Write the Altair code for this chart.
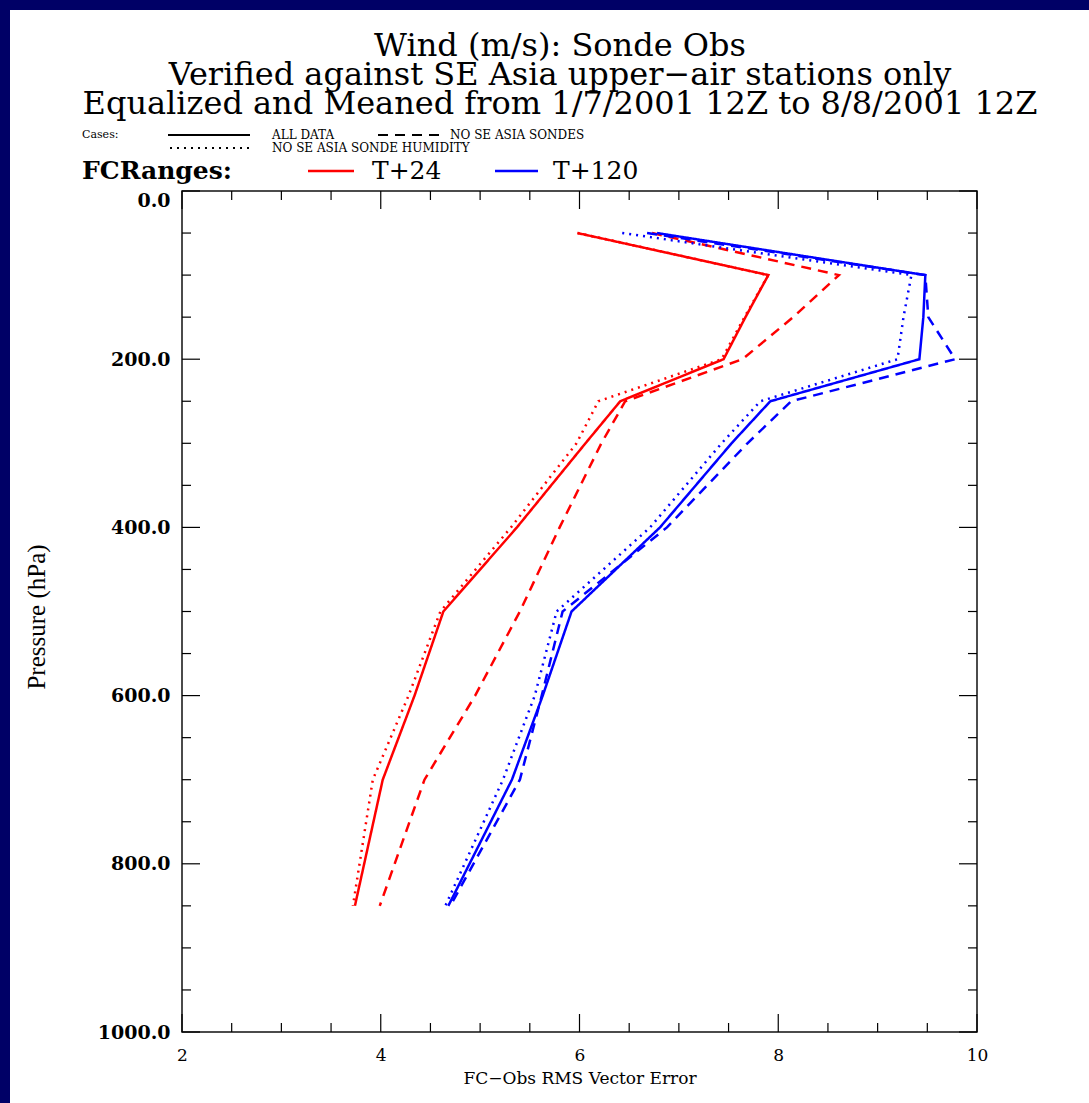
import altair as alt
import pandas as pd

# Pressure levels (hPa) at which the RMS vector errors are plotted
levels = [50, 100, 150, 200, 250, 300, 400, 500, 600, 700, 850]

# FC-Obs RMS vector wind error (m/s), one list per forecast range and case
t24_all = [5.98, 7.90, 7.67, 7.45, 6.41, 6.06, 5.37, 4.63, 4.34, 4.02, 3.74]
t24_no_sondes = [6.73, 8.61, 8.15, 7.64, 6.46, 6.22, 5.80, 5.40, 4.95, 4.44, 3.99]
t24_no_humidity = [5.98, 7.90, 7.66, 7.43, 6.19, 5.97, 5.31, 4.60, 4.28, 3.92, 3.72]
t120_all = [6.78, 9.48, 9.46, 9.42, 7.92, 7.53, 6.81, 5.92, 5.63, 5.32, 4.68]
t120_no_sondes = [6.68, 9.48, 9.51, 9.78, 8.13, 7.69, 6.88, 5.83, 5.62, 5.40, 4.70]
t120_no_humidity = [6.43, 9.34, 9.26, 9.20, 7.82, 7.43, 6.71, 5.77, 5.55, 5.23, 4.65]

ranges = ["T+24", "T+120"]
cases = ["ALL DATA", "NO SE ASIA SONDES", "NO SE ASIA SONDE HUMIDITY"]

# Axis tick values
x_major = [2, 4, 6, 8, 10]
x_minor = [2.5, 3, 3.5, 4.5, 5, 5.5, 6.5, 7, 7.5, 8.5, 9, 9.5]
y_major = [0, 200, 400, 600, 800, 1000]
y_minor = [50, 100, 150, 250, 300, 350, 450, 500, 550, 650, 700, 750, 850, 900, 950]

series = {
    ("T+24", "ALL DATA"): t24_all,
    ("T+24", "NO SE ASIA SONDES"): t24_no_sondes,
    ("T+24", "NO SE ASIA SONDE HUMIDITY"): t24_no_humidity,
    ("T+120", "ALL DATA"): t120_all,
    ("T+120", "NO SE ASIA SONDES"): t120_no_sondes,
    ("T+120", "NO SE ASIA SONDE HUMIDITY"): t120_no_humidity,
}
rows = []
for (rng, case), vals in series.items():
    for p, v in zip(levels, vals):
        rows.append({"range": rng, "case": case, "pressure": p, "error": v})
df = pd.DataFrame(rows)

W, H = 795, 841
PAD = {"left": 182, "top": 191, "right": 112, "bottom": 71}
SERIF = "DejaVu Serif"
NAVY = "#000066"
RED, BLUE = "#ff0000", "#0000ff"
DASH_SOLID, DASH_DASHED, DASH_DOTTED = [1, 0], [10, 7], [2, 5]

xs = alt.Scale(domain=[2, 10], nice=False, zero=False)
ys = alt.Scale(domain=[0, 1000], nice=False, zero=False, reverse=True)

# Shared axis definitions (used by every layer on the x / y scales so they merge)
x_axis = alt.Axis(values=x_major, format="d", title="FC−Obs RMS Vector Error",
                  labelFont=SERIF, labelFontSize=17, labelPadding=15, labelFlush=False,
                  labelColor="black", ticks=False, domain=False, grid=False,
                  titleFont=SERIF, titleFontSize=17, titleFontWeight="normal",
                  titleColor="black", titlePadding=7)
y_axis = alt.Axis(values=y_major, format=".1f", title=None,
                  labelFont=SERIF, labelFontSize=19, labelFontWeight="bold",
                  labelPadding=12, labelFlush=False, labelColor="black", ticks=False,
                  labelBaseline={"condition": {"test": "datum.value == 0", "value": "top"},
                                 "value": "middle"},
                  domain=False, grid=False)

one = pd.DataFrame({"k": [0]})


def text(s, x, y, size, weight="normal", font=SERIF, align="left",
         baseline="middle", angle=0):
    return alt.Chart(one).mark_text(
        text=s, font=font, fontSize=size, fontWeight=weight, align=align,
        baseline=baseline, angle=angle, color="black"
    ).encode(x=alt.value(x), y=alt.value(y))


def sample(x1, x2, y, color, dash, width=2):
    return alt.Chart(one).mark_rule(
        color=color, strokeDash=dash, strokeWidth=width
    ).encode(x=alt.value(x1), x2=alt.value(x2), y=alt.value(y))


def band(x1, x2, y1, y2, color):
    return alt.Chart(one).mark_rect(color=color).encode(
        x=alt.value(x1), x2=alt.value(x2), y=alt.value(y1), y2=alt.value(y2)
    )


# Slide border (navy strip along the left and top edges)
border = band(-PAD["left"], -PAD["left"] + 10, -PAD["top"], H + PAD["bottom"], NAVY) + \
    band(-PAD["left"], W + PAD["right"], -PAD["top"], -PAD["top"] + 10, NAVY)


# Inward-pointing tick marks on all four sides of the frame
def xticks(vals, length):
    d = pd.DataFrame({"error": vals})
    base = alt.Chart(d).mark_rule(color="black", strokeWidth=1.2)
    enc = dict(x=alt.X("error:Q", scale=xs, axis=x_axis))
    return base.encode(y=alt.value(H), y2=alt.value(H - length), **enc) + \
        base.encode(y=alt.value(0), y2=alt.value(length), **enc)


def yticks(vals, length):
    d = pd.DataFrame({"pressure": vals})
    base = alt.Chart(d).mark_rule(color="black", strokeWidth=1.2)
    enc = dict(y=alt.Y("pressure:Q", scale=ys, axis=y_axis))
    return base.encode(x=alt.value(0), x2=alt.value(length), **enc) + \
        base.encode(x=alt.value(W), x2=alt.value(W - length), **enc)


ticks = xticks(x_major, 18) + xticks(x_minor, 9) + yticks(y_major, 18) + yticks(y_minor, 9)

lines = alt.Chart(df).mark_line(strokeWidth=2.5, clip=True).encode(
    x=alt.X("error:Q", scale=xs, axis=x_axis),
    y=alt.Y("pressure:Q", scale=ys, axis=y_axis),
    color=alt.Color("range:N", scale=alt.Scale(domain=ranges, range=[RED, BLUE]), legend=None),
    strokeDash=alt.StrokeDash("case:N",
                              scale=alt.Scale(domain=cases,
                                              range=[DASH_SOLID, DASH_DASHED, DASH_DOTTED]),
                              legend=None),
    order=alt.Order("pressure:Q"),
)

# Three-line heading
cx = 560 - PAD["left"]
heading = text("Wind (m/s):  Sonde Obs", cx, 56 - PAD["top"], 32, align="center", baseline="alphabetic") + \
    text("Verified against SE Asia upper−air stations only", cx, 85 - PAD["top"], 32,
         align="center", baseline="alphabetic") + \
    text("Equalized and Meaned from 1/7/2001 12Z to 8/8/2001 12Z", cx, 114 - PAD["top"], 32,
         align="center", baseline="alphabetic")

# Legend block: line-style key for cases, colour key for forecast ranges
r1, r2, r3 = 135 - PAD["top"], 148 - PAD["top"], 171 - PAD["top"]
ox = -PAD["left"]
legend = text("Cases:", 82 + ox, r1, 11) + \
    sample(168 + ox, 250 + ox, r1, "black", DASH_SOLID) + \
    text("ALL DATA", 272 + ox, r1, 12) + \
    sample(378 + ox, 440 + ox, r1, "black", DASH_DASHED) + \
    text("NO SE ASIA SONDES", 450 + ox, r1, 12) + \
    sample(170 + ox, 252 + ox, r2, "black", DASH_DOTTED) + \
    text("NO SE ASIA SONDE HUMIDITY", 272 + ox, r2, 12) + \
    text("FCRanges:", 82 + ox, r3, 25, weight="bold") + \
    sample(308 + ox, 354 + ox, r3, RED, DASH_SOLID, 2.5) + \
    text("T+24", 372 + ox, r3, 25) + \
    sample(495 + ox, 538 + ox, r3, BLUE, DASH_SOLID, 2.5) + \
    text("T+120", 553 + ox, r3, 25)

ytitle = text("Pressure (hPa)", 37 - PAD["left"], 617 - PAD["top"], 25,
              font="Liberation Serif", align="center", angle=270)

chart = alt.layer(border, ticks, lines, heading, legend, ytitle).properties(
    width=W, height=H, padding=PAD, autosize="none", background="white"
).configure_view(stroke="#111111", strokeWidth=1.5)

chart.save("out.html", embed_options={"renderer": "svg", "actions": False})
